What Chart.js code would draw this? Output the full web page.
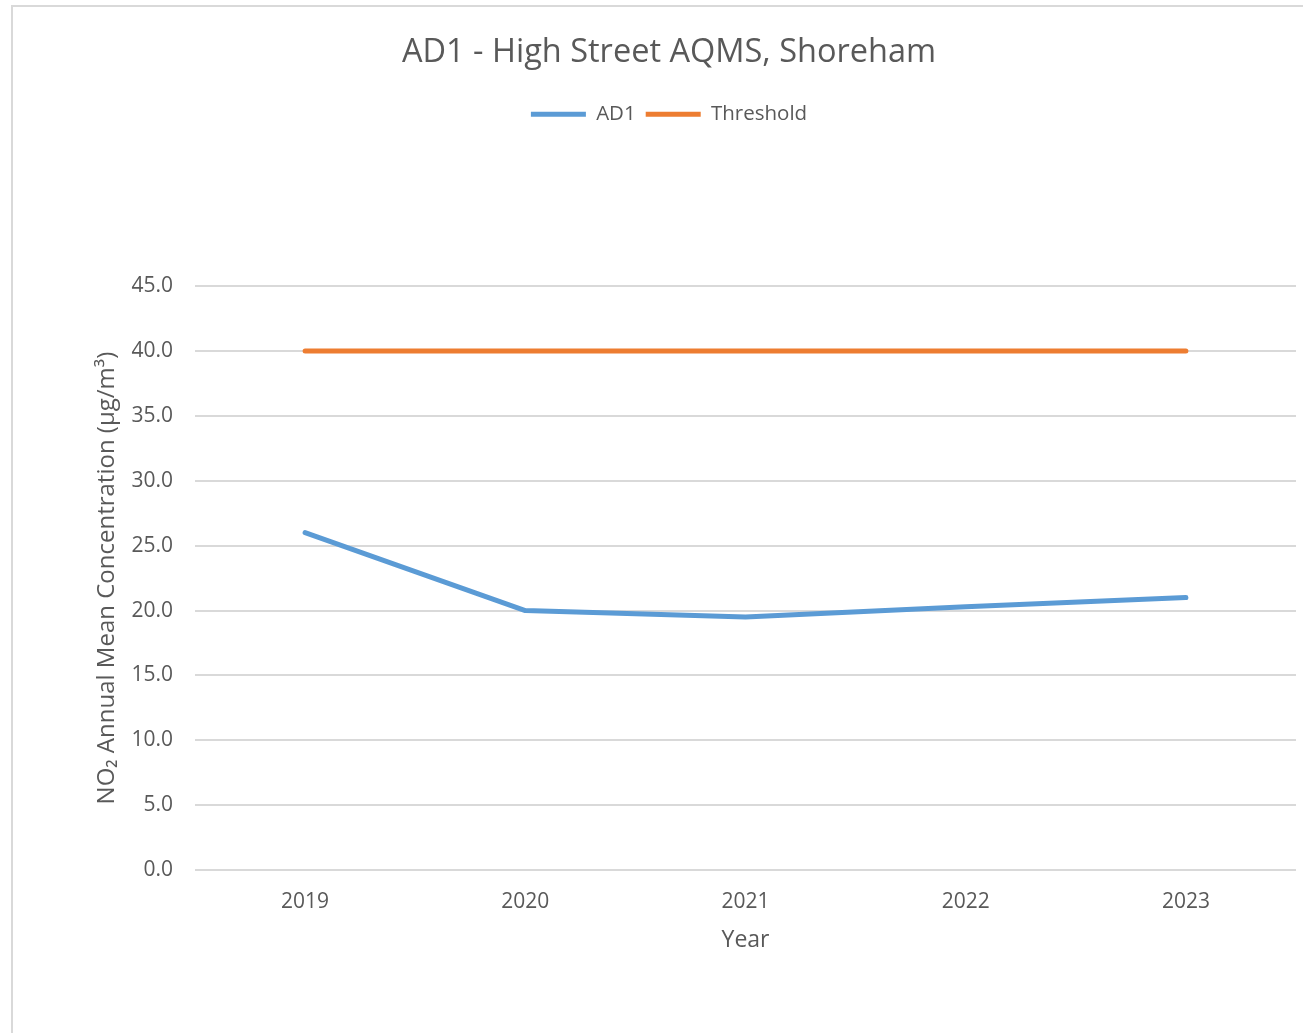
<!DOCTYPE html>
<html>
<head>
  <script src="https://cdn.jsdelivr.net/npm/chart.js@4/dist/chart.umd.min.js"></script>
  <style>
    * { margin: 0; padding: 0; box-sizing: border-box; }
    body { background: #fff; width: 1303px; height: 1033px; overflow: hidden; position: relative; }
    .frame {
      position: absolute;
      left: 11px;
      top: 5px;
      width: 1400px;
      height: 1100px;
      border: 2px solid #d9d9d9;
    }
    .chart-box {
      position: absolute;
      left: 0;
      top: 0;
      width: 1303px;
      height: 1033px;
    }
  </style>
</head>
<body>
  <div class="frame"></div>
  <div class="chart-box">
    <canvas id="no2Chart"></canvas>
  </div>

  <script>
    const years = ['2019', '2020', '2021', '2022', '2023'];
    const ad1Values = [26.0, 20.0, 19.5, 20.3, 21.0];
    const thresholdValues = [40, 40, 40, 40, 40];

    const textGrey = '#595959';
    const gridGrey = '#d9d9d9';
    const fontName = '"Open Sans", sans-serif';

    const ctx = document.getElementById('no2Chart').getContext('2d');
    new Chart(ctx, {
      type: 'line',
      data: {
        labels: years,
        datasets: [
          {
            label: 'AD1',
            data: ad1Values,
            borderColor: '#5b9bd5',
            backgroundColor: '#5b9bd5',
            borderWidth: 5,
            borderCapStyle: 'round',
            borderJoinStyle: 'round',
            pointRadius: 0,
            tension: 0
          },
          {
            label: 'Threshold',
            data: thresholdValues,
            borderColor: '#ed7d31',
            backgroundColor: '#ed7d31',
            borderWidth: 5,
            borderCapStyle: 'round',
            borderJoinStyle: 'round',
            pointRadius: 0,
            tension: 0
          }
        ]
      },
      options: {
        responsive: true,
        maintainAspectRatio: false,
        animation: false,
        layout: {
          padding: { left: 42, right: 7, top: 0, bottom: 79 }
        },
        plugins: {
          title: {
            display: true,
            text: 'AD1 - High Street AQMS, Shoreham',
            color: textGrey,
            font: { family: fontName, size: 32.5, weight: 'normal' },
            padding: { top: 33, bottom: 22 }
          },
          legend: {
            position: 'top',
            weight: 1750,
            labels: {
              usePointStyle: true,
              pointStyle: 'line',
              pointStyleWidth: 55,
              boxHeight: 5,
              color: textGrey,
              font: { family: fontName, size: 20.5 },
              padding: 10
            }
          },
          // empty subtitle used as a spacer between legend and plot
          subtitle: {
            display: true,
            text: ' ',
            font: { size: 1 },
            padding: { top: 0, bottom: 150.5 }
          },
          tooltip: { enabled: false }
        },
        scales: {
          x: {
            offset: true,
            grid: { display: false, drawTicks: false },
            border: { display: false },
            ticks: {
              color: textGrey,
              font: { family: fontName, size: 21 },
              padding: 19
            },
            title: {
              display: true,
              text: 'Year',
              color: textGrey,
              font: { family: fontName, size: 23 },
              padding: 0
            },
            afterFit: (scale) => { scale.height = 84; }
          },
          y: {
            min: 0,
            max: 45,
            grid: { color: gridGrey, lineWidth: 2, drawTicks: false },
            border: { display: false },
            ticks: {
              stepSize: 5,
              color: textGrey,
              font: { family: fontName, size: 21 },
              padding: 22,
              callback: (v) => v.toFixed(1)
            },
            title: {
              display: true,
              text: 'NO₂ Annual Mean Concentration (µg/m³)',
              color: textGrey,
              font: { family: fontName, size: 24 },
              padding: { top: 50.5, bottom: 0 }
            },
            afterFit: (scale) => { scale.width = 153; }
          }
        }
      }
    });
  </script>
</body>
</html>
